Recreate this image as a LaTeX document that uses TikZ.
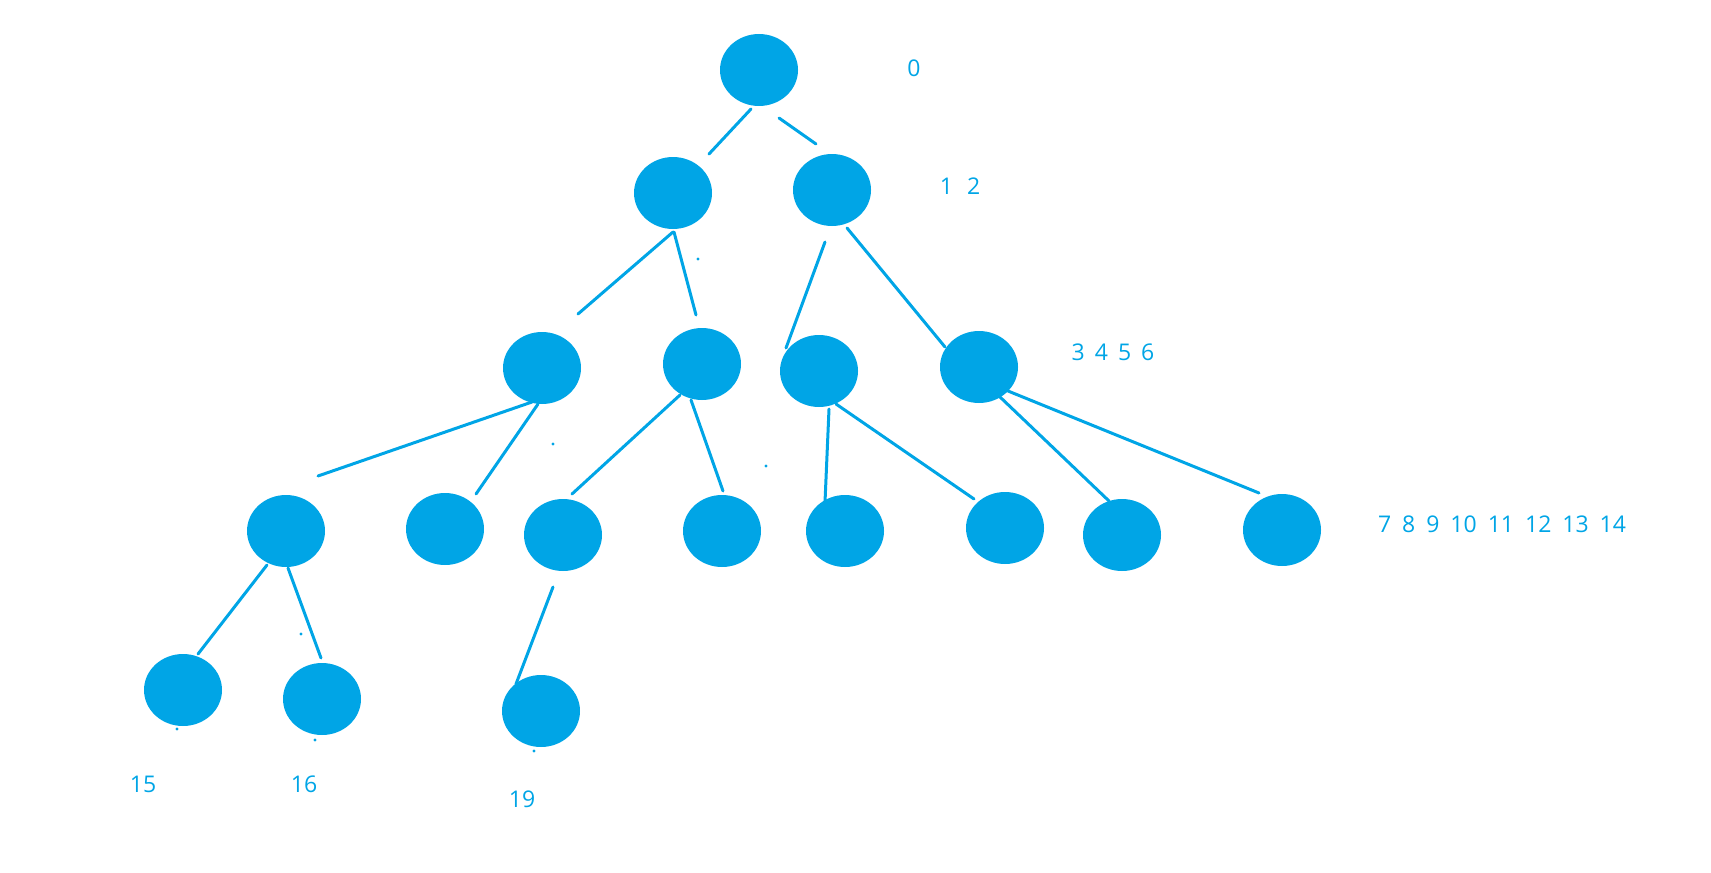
\documentclass[tikz,border=0pt]{standalone}
\usepackage{fontspec}
\setmainfont{Open Sans}
\usetikzlibrary{shapes.geometric,calc}
\definecolor{treeblue}{RGB}{0,165,230}
\begin{document}
\begin{tikzpicture}[x=0.5pt,y=-0.5pt,
  vert/.style={ellipse,fill=treeblue,draw=none,minimum width=39pt,minimum height=36pt,inner sep=0pt},
  edge/.style={draw=treeblue,line width=1.5pt,line cap=round},
  lbl/.style={text=treeblue,font=\fontsize{11.5pt}{13pt}\selectfont,inner sep=0pt},
  speck/.style={fill=treeblue,circle,inner sep=0pt,minimum size=1.6pt}]
\useasboundingbox (0,0) rectangle (1711,872);
\node[vert] (n0) at (759,70) {};
\node[vert] (n1) at (673,193) {};
\node[vert] (n2) at (832,190) {};
\node[vert] (n3) at (542,368) {};
\node[vert] (n4) at (702,364) {};
\node[vert] (n5) at (819,371) {};
\node[vert] (n6) at (979,367) {};
\node[vert] (n7) at (286,531) {};
\node[vert] (n8) at (445,529) {};
\node[vert] (n9) at (563,535) {};
\node[vert] (n10) at (722,531) {};
\node[vert] (n11) at (845,531) {};
\node[vert] (n12) at (1005,528) {};
\node[vert] (n13) at (1122,535) {};
\node[vert] (n14) at (1282,530) {};
\node[vert] (n15) at (183,690) {};
\node[vert] (n16) at (322,699) {};
\node[vert] (n19) at (541,711) {};
% connectors
\draw[edge] ($(n0)+(-8,39)$) -- ($(n1)+(36,-39)$);
\draw[edge] ($(n0)+(20,48)$) -- ($(n2)+(-16,-46)$);
\draw[edge] ($(n1)+(0,39)$) -- ($(n3)+(36,-54)$);
\draw[edge] ($(n1)+(1,39)$) -- ($(n4)+(-6,-49)$);
\draw[edge] ($(n2)+(-7,52)$) -- ($(n5)+(-33,-23)$);
\draw[edge] ($(n2)+(15,38)$) -- ($(n6)+(-34,-20)$);
\draw[edge] ($(n3)+(-10,34)$) -- ($(n7)+(32,-55)$);
\draw[edge] ($(n3)+(-4,36)$) -- ($(n8)+(31,-35)$);
\draw[edge] ($(n4)+(-22,31)$) -- ($(n9)+(9,-41)$);
\draw[edge] ($(n4)+(-11,36)$) -- ($(n10)+(1,-40)$);
\draw[edge] ($(n5)+(10,38)$) -- ($(n11)+(-20,-29)$);
\draw[edge] ($(n5)+(17,33)$) -- ($(n12)+(-31,-29)$);
\draw[edge] ($(n6)+(21,30)$) -- ($(n13)+(-13,-34)$);
\draw[edge] ($(n6)+(29,24)$) -- ($(n14)+(-23,-37)$);
\draw[edge] ($(n7)+(-19,34)$) -- ($(n15)+(15,-36)$);
\draw[edge] ($(n7)+(2,37)$) -- ($(n16)+(-1,-41)$);
\draw[edge] ($(n9)+(-10,52)$) -- ($(n19)+(-25,-27)$);
% stray specks
\node[speck] (s1) at (698,259) {};
\node[speck] (s2) at (553,444) {};
\node[speck] (s3) at (766,466) {};
\node[speck] (s4) at (301,634) {};
\node[speck] (s5) at (177,729) {};
\node[speck] (s6) at (315,740) {};
\node[speck] (s7) at (534,751) {};
% labels
\node[lbl] (l0) at (914,68) {0};
\node[lbl] (l1) at (960,186) {1\hspace{7pt}2};
\node[lbl] (l2) at (1113,352) {3\hspace{5pt}4\hspace{5pt}5\hspace{5pt}6};
\node[lbl] (l3) at (1502,524) {7\hspace{5.5pt}8\hspace{5.5pt}9\hspace{5.5pt}10\hspace{5.5pt}11\hspace{5.5pt}12\hspace{5.5pt}13\hspace{5.5pt}14};
\node[lbl] (l4) at (143,784) {15};
\node[lbl] (l5) at (304,784) {16};
\node[lbl] (l6) at (522,799) {19};
\end{tikzpicture}
\end{document}
